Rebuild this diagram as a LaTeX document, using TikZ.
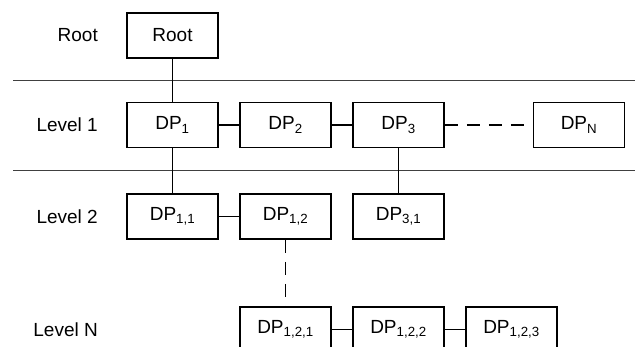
\documentclass[tikz,border=0pt]{standalone}
\usepackage{fontspec}
\setmainfont{Liberation Sans}
\tikzset{>=stealth}

\tikzset{
  dpbox/.style={draw, line width=1.7pt, minimum width=91pt, minimum height=45pt, inner sep=0pt},
  levellabel/.style={anchor=east, inner sep=0pt},
  link/.style={line width=1.6pt},
  dashlink/.style={line width=1.6pt, dash pattern=on 13pt off 9pt},
  sepline/.style={line width=1pt, black!75}
}

\begin{document}
\begin{tikzpicture}[x=1pt, y=-1pt, font=\fontsize{19}{22}\selectfont]
    \clip (0,0) rectangle (635,347);
    \useasboundingbox (0,0) rectangle (635,347);
    % level separators
    \draw [sepline] (13,81) -- (635,81);
    \draw [sepline] (13,171) -- (635,171);
    % level names
    \node [levellabel] (lroot) at (98,35.5) {Root};
    \node [levellabel] (lone) at (98,125) {Level 1};
    \node [levellabel] (ltwo) at (98,216.5) {Level 2};
    \node [levellabel] (lnn) at (98,329.5) {Level N};
    % boxes
    \node [dpbox] (root) at (172.5,35.5) {Root};
    \node [dpbox] (dp1) at (172.5,125) {DP\textsubscript{1}};
    \node [dpbox] (dp2) at (285.5,125) {DP\textsubscript{2}};
    \node [dpbox] (dp3) at (398.5,125) {DP\textsubscript{3}};
    \node [dpbox] (dpn) at (579,125) {DP\textsubscript{N}};
    \node [dpbox] (dp11) at (172.5,216.5) {DP\textsubscript{1,1}};
    \node [dpbox] (dp12) at (285.5,216.5) {DP\textsubscript{1,2}};
    \node [dpbox] (dp31) at (398.5,216.5) {DP\textsubscript{3,1}};
    \node [dpbox] (dp121) at (285.5,329.5) {DP\textsubscript{1,2,1}};
    \node [dpbox] (dp122) at (398.5,329.5) {DP\textsubscript{1,2,2}};
    \node [dpbox] (dp123) at (511.5,329.5) {DP\textsubscript{1,2,3}};
    % connectors
    \draw [link] (root) -- (dp1);
    \draw [link] (dp1) -- (dp2);
    \draw [link] (dp2) -- (dp3);
    \draw [dashlink] (dp3) -- (dpn);
    \draw [link] (dp1) -- (dp11);
    \draw [link] (dp3) -- (dp31);
    \draw [link] (dp11) -- (dp12);
    \draw [dashlink] (dp12) -- (dp121);
    \draw [link] (dp121) -- (dp122);
    \draw [link] (dp122) -- (dp123);
\end{tikzpicture}
\end{document}
